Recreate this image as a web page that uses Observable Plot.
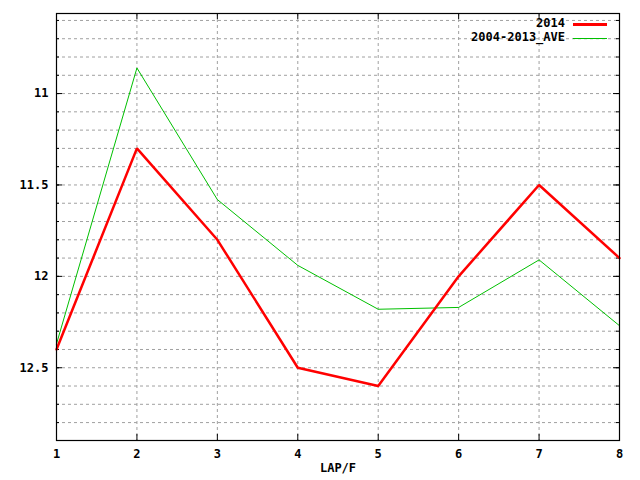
<!DOCTYPE html>
<html>
<head>
<meta charset="utf-8">
<script src="https://cdn.jsdelivr.net/npm/d3@7"></script>
<script src="https://cdn.jsdelivr.net/npm/@observablehq/plot@0.6"></script>
<style>
  html, body { margin: 0; padding: 0; background: #fff; }
  #wrap { position: relative; width: 640px; height: 480px; }
  .leg { position: absolute; font: bold 12px "DejaVu Sans Mono", monospace; color: #000; }
  .legtxt { position: absolute; right: 75px; white-space: pre; line-height: 14px; height: 14px; }
  .legline { position: absolute; left: 573px; width: 34px; }
</style>
</head>
<body>
<div id="wrap"></div>
<script>
const laps = [1, 2, 3, 4, 5, 6, 7, 8];
const series2014 = [12.4, 11.3, 11.8, 12.5, 12.6, 12.0, 11.5, 11.9];
const seriesAve = [12.37, 10.86, 11.58, 11.94, 12.18, 12.17, 11.91, 12.27];
const yMajor = [11, 11.5, 12, 12.5];
const yMinor = [10.6, 10.7, 10.8, 10.9, 11, 11.1, 11.2, 11.3, 11.4, 11.5, 11.6, 11.7, 11.8, 11.9, 12, 12.1, 12.2, 12.3, 12.4, 12.5, 12.6, 12.7, 12.8];
const seriesNames = ["2014", "2004-2013_AVE"];
const seriesColors = ["#ff0000", "#00c000"];

const data2014 = laps.map((x, i) => ({x, y: series2014[i]}));
const dataAve = laps.map((x, i) => ({x, y: seriesAve[i]}));

const W = 640, H = 480, mL = 56, mR = 21, mT = 13, mB = 40;
const pw = W - mL - mR, ph = H - mT - mB;

const chart = Plot.plot({
  width: W, height: H,
  marginLeft: mL, marginRight: mR, marginTop: mT, marginBottom: mB,
  style: {fontFamily: "'DejaVu Sans Mono', monospace", fontSize: "12px", fontWeight: "bold", background: "#fff", color: "#000"},
  x: {domain: [1, 8], label: null},
  y: {domain: [10.562, 12.898], reverse: true, label: null},
  marks: [
    Plot.ruleY(yMinor, {stroke: "#a0a0a0", strokeDasharray: "3,3", strokeWidth: 1}),
    Plot.ruleX(laps.slice(1, -1), {stroke: "#a0a0a0", strokeDasharray: "3,3", strokeWidth: 1}),
    // inward ticks
    Plot.tickY(yMinor, {stroke: "#000", insetRight: pw - 3}),
    Plot.tickY(yMinor, {stroke: "#000", insetLeft: pw - 3}),
    Plot.tickY(yMajor, {stroke: "#000", insetRight: pw - 6}),
    Plot.tickY(yMajor, {stroke: "#000", insetLeft: pw - 6}),
    Plot.tickX(laps, {stroke: "#000", insetTop: ph - 6}),
    Plot.tickX(laps, {stroke: "#000", insetBottom: ph - 6}),
    Plot.axisY(yMajor, {tickSize: 0, tickPadding: 8, tickFormat: d => String(d), label: null, fontWeight: "bold"}),
    Plot.axisX(laps, {tickSize: 0, tickPadding: 9, tickFormat: d => String(d), label: null, fontWeight: "bold"}),
    Plot.text(["LAP/F"], {frameAnchor: "bottom", dy: 31, fontWeight: "bold"}),
    Plot.line(dataAve, {x: "x", y: "y", stroke: seriesColors[1], strokeWidth: 1}),
    Plot.line(data2014, {x: "x", y: "y", stroke: seriesColors[0], strokeWidth: 2.5, strokeLinejoin: "miter"}),
    Plot.frame({stroke: "#000", strokeWidth: 1.2})
  ]
});

const wrap = document.getElementById("wrap");
wrap.appendChild(chart);

const leg = document.createElement("div");
leg.className = "leg";
leg.style.left = "0"; leg.style.top = "0"; leg.style.width = W + "px"; leg.style.height = "60px";
seriesNames.forEach((name, i) => {
  const cy = 23 + i * 14;
  const t = document.createElement("div");
  t.className = "legtxt";
  t.textContent = name;
  t.style.top = (cy - 7) + "px";
  leg.appendChild(t);
  const l = document.createElement("div");
  l.className = "legline";
  const lw = i === 0 ? 3 : 1;
  l.style.top = (cy + 1 - lw / 2) + "px";
  l.style.height = lw + "px";
  l.style.background = seriesColors[i];
  leg.appendChild(l);
});
wrap.appendChild(leg);
</script>
</body>
</html>
